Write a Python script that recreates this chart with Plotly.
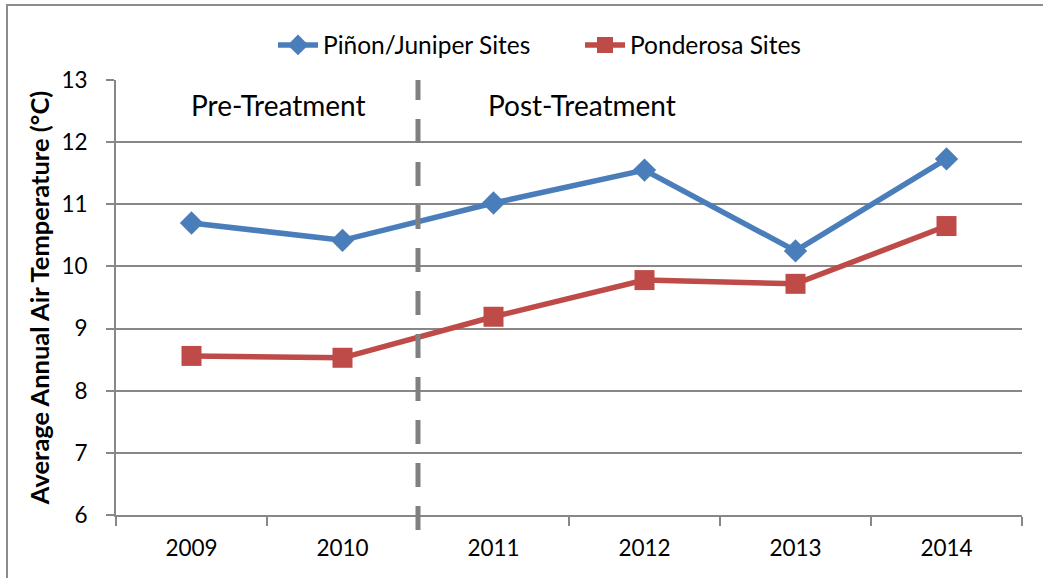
import plotly.graph_objects as go

years = ["2009", "2010", "2011", "2012", "2013", "2014"]
pinon_juniper = [10.70, 10.42, 11.02, 11.55, 10.25, 11.73]
ponderosa = [8.56, 8.53, 9.19, 9.78, 9.72, 10.65]
y_ticks = [6, 7, 8, 9, 10, 11, 12, 13]

W, H = 1043, 578
L, R, T, B = 116, 21, 80, 63
pw, ph = W - L - R, H - T - B

def px_x(p):
    return (p - L) / pw

def px_y(p):
    return (H - B - p) / ph

FONT = "Lato"
GRID = "#878787"

fig = go.Figure()
fig.add_trace(go.Scatter(
    x=years, y=pinon_juniper, mode="lines+markers", name="Piñon/Juniper Sites",
    line=dict(color="#4A7EBB", width=5.5),
    marker=dict(symbol="diamond", size=18, color="#4A7EBB"),
))
fig.add_trace(go.Scatter(
    x=years, y=ponderosa, mode="lines+markers", name="Ponderosa Sites",
    line=dict(color="#BE4B48", width=5.5),
    marker=dict(symbol="square", size=20, color="#BE4B48"),
))

# dashed treatment divider between 2010 and 2011
fig.add_shape(type="line", xref="x", yref="paper", x0=1.5, x1=1.5,
              y0=px_y(530), y1=1.0,
              line=dict(color="#808080", width=5, dash="24px,19px"))
# outer chart border
fig.add_shape(type="rect", xref="paper", yref="paper",
              x0=px_x(7), x1=px_x(1046), y0=px_y(581), y1=px_y(5),
              line=dict(color="#8C8C8C", width=2), fillcolor="rgba(0,0,0,0)", layer="below")

fig.add_annotation(text="Pre-Treatment", xref="paper", yref="paper",
                   x=px_x(278), y=px_y(105), xanchor="center", yanchor="middle",
                   showarrow=False, font=dict(family=FONT, size=28, color="#000000"))
fig.add_annotation(text="Post-Treatment", xref="paper", yref="paper",
                   x=px_x(582), y=px_y(105), xanchor="center", yanchor="middle",
                   showarrow=False, font=dict(family=FONT, size=28, color="#000000"))

fig.update_layout(
    width=W, height=H,
    margin=dict(l=L, r=R, t=T, b=B),
    paper_bgcolor="white", plot_bgcolor="white",
    font=dict(family=FONT, size=22, color="#000000"),
    showlegend=True,
    legend=dict(orientation="h", x=px_x(273), xanchor="left", y=px_y(45), yanchor="middle",
                font=dict(family=FONT, size=24.5), itemwidth=40,
                entrywidth=252, entrywidthmode="pixels", bgcolor="rgba(0,0,0,0)"),
    xaxis=dict(type="category", tickson="boundaries", ticks="outside", ticklen=9,
               tickwidth=2, tickcolor=GRID, showline=True, linecolor=GRID, linewidth=2,
               showgrid=False, range=[-0.5, 5.5], tickfont=dict(size=22.5),
               ticklabelstandoff=12, zeroline=False),
    yaxis=dict(range=[6, 13], tickvals=y_ticks, ticks="outside", ticklen=8,
               tickwidth=2, tickcolor=GRID, showline=True, linecolor=GRID, linewidth=2,
               showgrid=True, gridcolor=GRID, gridwidth=2, zeroline=False,
               tickfont=dict(size=22.5), ticklabelstandoff=14,
               title=dict(text="<b>Average Annual Air Temperature (°C)</b>",
                          font=dict(size=25.5), standoff=4)),
)

fig.write_html("out.html", config={"displayModeBar": False},
               post_script="document.body.style.margin='0px';")
